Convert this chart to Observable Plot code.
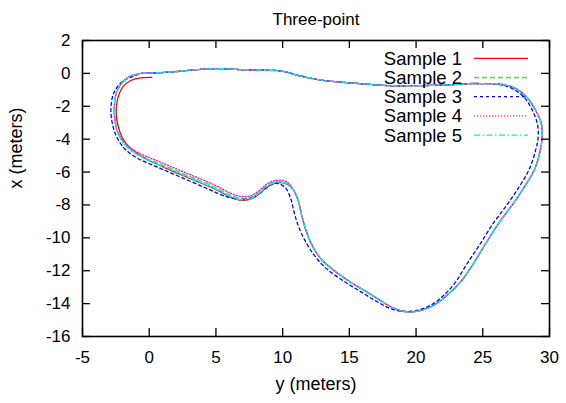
<!DOCTYPE html>
<html><head><meta charset="utf-8">
<script src="https://cdn.jsdelivr.net/npm/d3@7"></script>
<script src="https://cdn.jsdelivr.net/npm/@observablehq/plot@0.6"></script>
<style>body{margin:0;background:#fff}#chart{width:566px;height:403px}</style>
</head><body><div id="chart"></div>
<script>
const titleText = "Three-point";
const xLabel = "y (meters)";
const yLabel = "x (meters)";
const xTicks = [-5, 0, 5, 10, 15, 20, 25, 30];
const yTicks = [-16, -14, -12, -10, -8, -6, -4, -2, 0, 2];
const seriesNames = ["Sample 1", "Sample 2", "Sample 3", "Sample 4", "Sample 5"];
const seriesColors = ["#ff0000", "#33e833", "#0000ff", "#ff00ff", "#00eeee"];
const seriesDashes = [null, "5,3", "3,3", "1.2,1.8", "6,2.5,1.5,2.5"];

// [y (meters), x (meters)] pairs
const redHead = [[0.20,-0.24],[-0.67,-0.27],[-1.42,-0.45],[-2.0,-0.85],[-2.38,-1.6],[-2.47,-2.44],[-2.33,-3.2],[-2.05,-3.85],[-1.6,-4.4],[-0.95,-4.85],[-0.1,-5.25],[1.33,-5.79],[3.08,-6.40],[4.83,-7.00],[6.08,-7.51],[6.83,-7.71],[7.58,-7.65],[8.20,-7.35],[8.83,-6.91],[9.58,-6.66],[10.33,-6.74]];
const greenHead = [[-0.6,0.0],[-1.35,-0.15],[-2.0,-0.55],[-2.45,-1.2],[-2.6,-2.0],[-2.55,-2.8],[-2.35,-3.55],[-1.95,-4.15],[-1.4,-4.62],[-0.7,-4.98],[0.3,-5.35],[1.33,-5.68],[3.08,-6.28],[4.83,-6.88],[6.08,-7.4],[6.83,-7.6],[7.58,-7.55],[8.2,-7.25],[8.83,-6.82],[9.58,-6.58],[10.33,-6.68]];
const magentaHead = [[-0.6,0.0],[-1.35,-0.13],[-2.0,-0.52],[-2.45,-1.15],[-2.62,-1.95],[-2.6,-2.75],[-2.4,-3.5],[-2.0,-4.05],[-1.45,-4.5],[-0.75,-4.85],[0.3,-5.22],[1.33,-5.56],[3.08,-6.16],[4.83,-6.76],[6.08,-7.28],[6.83,-7.48],[7.58,-7.45],[8.2,-7.15],[8.83,-6.72],[9.58,-6.5],[10.33,-6.6]];
const cyanHead = [[-0.6,0.0],[-1.4,-0.18],[-2.05,-0.6],[-2.5,-1.25],[-2.62,-2.05],[-2.55,-2.85],[-2.37,-3.6],[-1.98,-4.2],[-1.42,-4.67],[-0.72,-5.03],[0.3,-5.43],[1.33,-5.76],[3.08,-6.37],[4.83,-6.97],[6.08,-7.48],[6.83,-7.68],[7.58,-7.62],[8.2,-7.32],[8.83,-6.88],[9.58,-6.62],[10.33,-6.72]];
const mainBottomRight = [[10.83,-7.11],[11.16,-7.71],[11.46,-8.73],[11.83,-9.74],[12.3,-10.6],[12.9,-11.3],[13.8,-11.95],[15.1,-12.7],[16.33,-13.3],[17.4,-13.85],[18.4,-14.3],[19.33,-14.5],[20.33,-14.42],[21.33,-14.1],[22.33,-13.49],[23.33,-12.68],[24.2,-11.7],[25.05,-10.57],[26.2,-9.1],[27.3,-7.9],[28.2,-6.8],[28.9,-5.8],[29.3,-4.7],[29.45,-3.9],[29.4,-3.1],[29.0,-2.3],[28.3,-1.45],[27.3,-0.85],[26.1,-0.64]];
const topLine = [[25.0,-0.62],[24.0,-0.62],[22.8,-0.68],[21.08,-0.73],[19.58,-0.75],[18.08,-0.75],[16.58,-0.67],[15.08,-0.58],[14.15,-0.52],[12.65,-0.38],[11.15,-0.12],[9.88,0.15],[8.68,0.19],[6.83,0.23],[5.1,0.29],[3.3,0.21],[1.8,0.09],[0.08,0.02],[-0.6,0.0]];
const blueLoop = [[-0.8,-0.05],[-1.25,-0.2],[-2.05,-0.52],[-2.67,-1.23],[-2.87,-2.24],[-2.72,-3.2],[-2.35,-4.0],[-1.75,-4.65],[-0.9,-5.15],[0.58,-5.69],[2.33,-6.30],[4.33,-7.0],[5.83,-7.51],[7.08,-7.67],[8.08,-7.41],[8.83,-6.94],[9.5,-6.68],[10.2,-6.95],[10.6,-7.6],[10.85,-8.4],[11.1,-9.1],[11.45,-9.8],[11.95,-10.55],[12.55,-11.25],[13.4,-11.95],[14.7,-12.7],[15.9,-13.3],[17.0,-13.85],[18.1,-14.3],[19.0,-14.47],[20.2,-14.38],[21.3,-14.0],[22.2,-13.4],[23.0,-12.65],[23.8,-11.6],[24.7,-10.5],[25.8,-9.1],[26.9,-7.9],[27.8,-6.8],[28.5,-5.8],[28.95,-4.7],[29.15,-3.9],[29.1,-3.1],[28.75,-2.3],[28.1,-1.45],[27.1,-0.88],[26.1,-0.66]];

const samples = [
  redHead.concat(mainBottomRight, topLine),
  greenHead.concat(mainBottomRight, topLine),
  blueLoop.concat(topLine),
  magentaHead.concat(mainBottomRight, topLine),
  cyanHead.concat(mainBottomRight, topLine)
];

const W = 566, H = 403, mL = 82, mR = 17, mT = 40, mB = 67;
const innerW = W - mL - mR, innerH = H - mT - mB;
const font = "'Liberation Sans', Arial, Helvetica, sans-serif";

const plot = Plot.plot({
  width: W, height: H,
  marginLeft: mL, marginRight: mR, marginTop: mT, marginBottom: mB,
  x: {domain: [-5, 30]},
  y: {domain: [-16, 2]},
  style: {fontFamily: font, background: "#fff", color: "#000"},
  marks: [
    ...samples.map((pts, i) => Plot.line(pts, {
      x: d => d[0], y: d => d[1], stroke: seriesColors[i], strokeWidth: 1.3,
      strokeDasharray: seriesDashes[i], curve: "catmull-rom"
    })),
    Plot.tickX(xTicks, {x: d => d, insetTop: innerH - 8, stroke: "#000", strokeWidth: 1.3}),
    Plot.tickX(xTicks, {x: d => d, insetBottom: innerH - 8, stroke: "#000", strokeWidth: 1.3}),
    Plot.tickY(yTicks, {y: d => d, insetRight: innerW - 8, stroke: "#000", strokeWidth: 1.3}),
    Plot.tickY(yTicks, {y: d => d, insetLeft: innerW - 8, stroke: "#000", strokeWidth: 1.3}),
    Plot.frame({stroke: "#000", strokeWidth: 1.6}),
    Plot.axisX(xTicks, {tickSize: 0, tickPadding: 14, fontSize: 17, label: null, tickFormat: d => String(d)}),
    Plot.axisY(yTicks, {tickSize: 0, tickPadding: 12, fontSize: 17, label: null, tickFormat: d => String(d)}),
    Plot.text([titleText], {text: d => d, frameAnchor: "top", dy: -28, fontSize: 17}),
    Plot.text([xLabel], {text: d => d, frameAnchor: "bottom", dy: 53, fontSize: 18}),
    Plot.text([yLabel], {text: d => d, frameAnchor: "left", dx: -66, rotate: -90, fontSize: 18})
  ]
});

// legend (gnuplot-style key, top right inside the frame)
const svg = d3.select(plot);
const key = svg.append("g").attr("font-family", font).attr("font-size", 18.5);
const keyTextX = 462, keyLineX1 = 474, keyLineX2 = 528, keyTop = 58.3, keyGap = 19.2;
seriesNames.forEach((name, i) => {
  const cy = keyTop + i * keyGap;
  key.append("text").attr("x", keyTextX).attr("y", cy).attr("dy", "0.35em")
    .attr("text-anchor", "end").attr("fill", "#000").text(name);
  key.append("line").attr("x1", keyLineX1).attr("x2", keyLineX2).attr("y1", cy).attr("y2", cy)
    .attr("stroke", seriesColors[i]).attr("stroke-width", 1.3)
    .attr("stroke-dasharray", seriesDashes[i]);
});

document.getElementById("chart").appendChild(plot);
</script>
</body></html>
